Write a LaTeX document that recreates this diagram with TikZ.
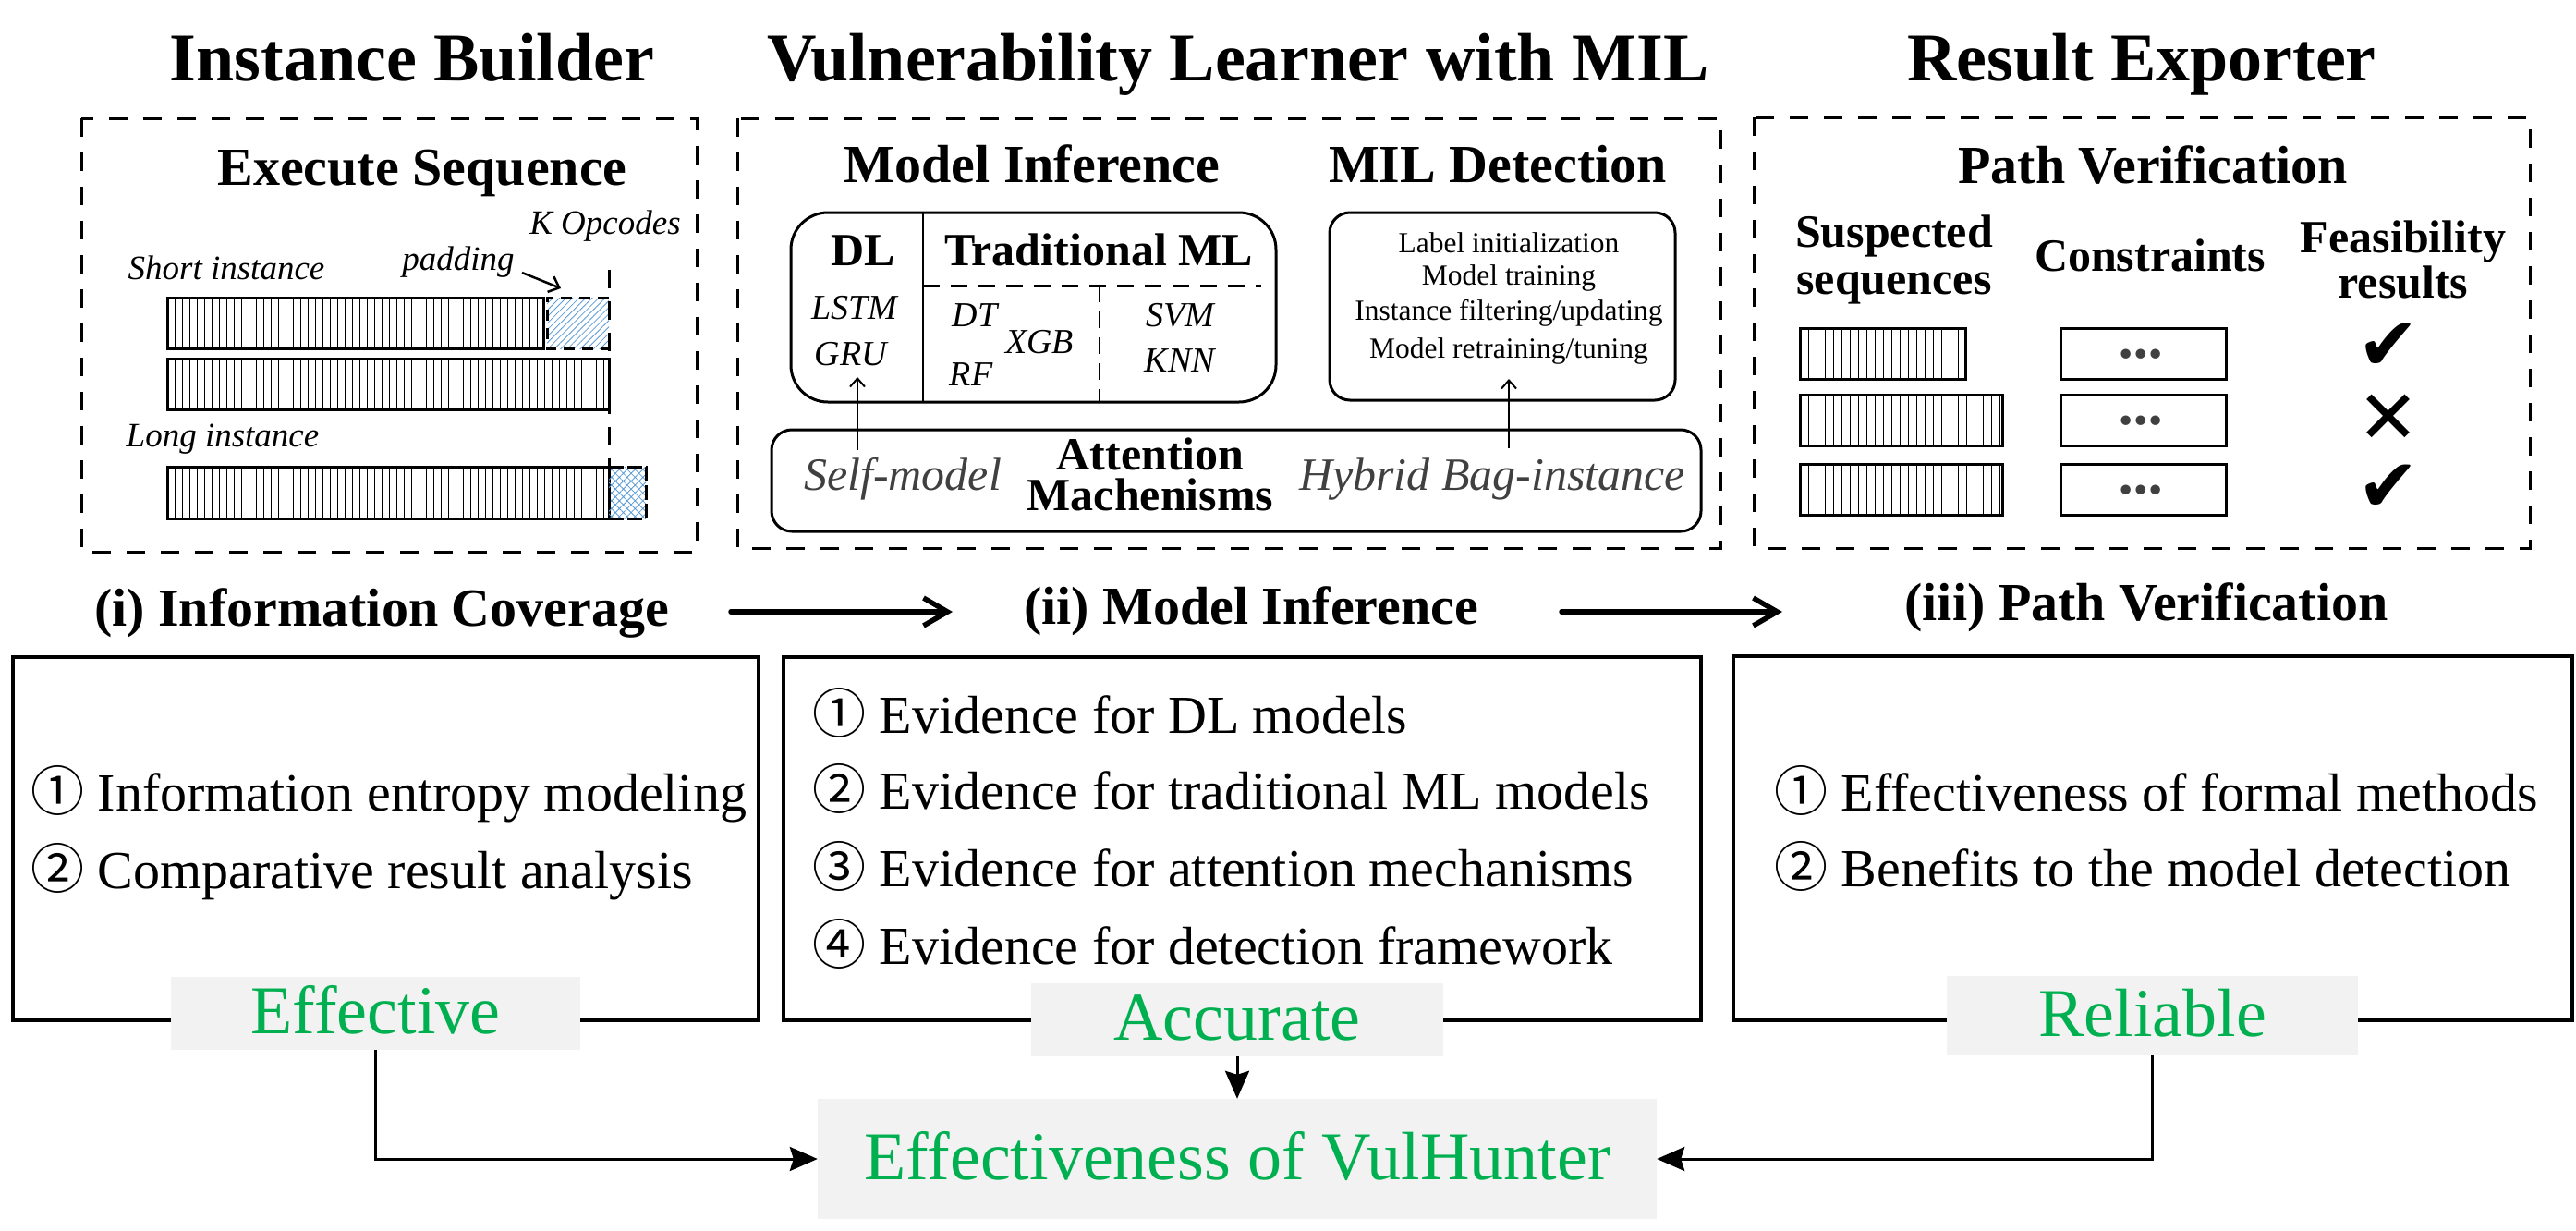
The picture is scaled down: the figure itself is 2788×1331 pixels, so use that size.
\documentclass[tikz,border=0pt]{standalone}
\usepackage{fontspec}
\setmainfont{Liberation Serif}
\newfontfamily\cjkfont{Noto Sans CJK SC}
\newfontfamily\dvsymfont{DejaVu Sans}
\usetikzlibrary{arrows.meta,patterns.meta}
\definecolor{effgreen}{HTML}{00B050}
\definecolor{boxgray}{HTML}{F2F2F2}
\definecolor{txtgray}{HTML}{404040}
\definecolor{hatchblue}{HTML}{5B9BD5}
\newcommand{\fsz}[1]{\fontsize{#1}{#1}\selectfont}
\newcommand{\cnum}[1]{{\cjkfont #1}}
\newcommand{\seqbar}[5]{%
  \pgfmathtruncatemacro{\seqn}{floor((#3-#1)/#5-0.3)}%
  \foreach \i in {1,...,\seqn}{\draw[line width=1pt] ({#1+\i*#5},#2) -- ({#1+\i*#5},#4);}%
  \draw[line width=3pt] (#1,#2) rectangle (#3,#4);%
}
\begin{document}
\begin{tikzpicture}[x=1pt,y=-1pt,
  toptitle/.style={font=\bfseries\fsz{74},anchor=base,inner sep=0pt},
  subtitle/.style={font=\bfseries\fsz{58},anchor=base,inner sep=0pt},
  headb/.style={font=\bfseries\fsz{50},anchor=base,inner sep=0pt},
  itl/.style={font=\itshape\fsz{37},anchor=base,inner sep=0pt},
  mlname/.style={font=\itshape\fsz{38},anchor=base,inner sep=0pt},
  milstep/.style={font=\fsz{31.5},anchor=base,inner sep=0pt},
  attn/.style={font=\itshape\fsz{50},text=txtgray,anchor=base,inner sep=0pt},
  item/.style={font=\fsz{58},anchor=base west,inner sep=0pt},
  dashbox/.style={line width=3pt,dash pattern=on 20pt off 17pt},
  roundbox/.style={line width=3pt},
  whitebox/.style={line width=4pt},
  graybox/.style={fill=boxgray,inner sep=0pt,text=effgreen,font=\fsz{74},text height=44pt,text depth=0pt},
  flow/.style={line width=5.5pt,line cap=round,-{Straight Barb[length=26pt,width=30pt]}},
  conn/.style={line width=3pt,-{Stealth[length=30pt,width=26pt,inset=4pt]}},
  thinarrow/.style={line width=2pt,-{Straight Barb[length=9pt,width=16pt]}},
  padarrow/.style={line width=2.5pt,-{Straight Barb[length=10pt,width=18pt]}},
  constr/.style={line width=3pt},
  dots/.style={font=\bfseries\itshape\fsz{64},text=txtgray,anchor=base,inner sep=0pt},
  okmark/.style={font=\dvsymfont\fsz{80},inner sep=0pt},
  nomark/.style={font=\dvsymfont\fsz{80},inner sep=0pt},
]
\useasboundingbox (0,0) rectangle (2788,1331);

% ---------- top titles
\node[toptitle] (t1) at (446,87) {Instance Builder};
\node[toptitle] (t2) at (1340,87) {Vulnerability Learner with MIL};
\node[toptitle] (t3) at (2318,87) {Result Exporter};

% ---------- dashed frames
\draw[dashbox] (88,128) rectangle (754,597);
\draw[dashbox] (798,128) rectangle (1862,593);
\draw[dashbox] (1898,127) rectangle (2738,593);

% ---------- box A : Execute Sequence
\node[subtitle] (es) at (457,200) {Execute Sequence};
\node[itl] (kop) at (655,253) {K Opcodes};
\node[itl] (pad) at (496,292) {padding};
\node[itl] (shortl) at (245,302) {Short instance};
\node[itl] (longl) at (241,483) {Long instance};
\seqbar{181}{322}{588}{377}{8}
\fill[pattern={Lines[angle=45,distance=5pt,line width=0.8pt]},pattern color=hatchblue] (592,322) rectangle (659,377);
\draw[line width=3pt,dash pattern=on 12pt off 8pt] (659,322) -- (592,322) -- (592,377) -- (659,377);
\seqbar{181}{388}{659}{443}{8}
\seqbar{181}{505}{659}{561}{8}
\fill[pattern={Hatch[angle=45,distance=6pt,line width=0.8pt]},pattern color=hatchblue] (659,505) rectangle (699,561);
\draw[line width=3pt,dash pattern=on 16pt off 4pt] (659,505) -- (699,505) -- (699,561) -- (659,561);
\coordinate (kl1) at (659,292);
\coordinate (kl2) at (659,562);
\draw[line width=3pt,dash pattern=on 20pt off 14pt] (kl1) -- (kl2);
\coordinate (padfrom) at (565,295);
\coordinate (padto) at (607,312);
\draw[padarrow] (padfrom) -- (padto);

% ---------- box B : Vulnerability learner
\node[subtitle] (mi) at (1117,197) {Model Inference};
\node[subtitle] (mild) at (1621,197) {MIL Detection};
\draw[roundbox,rounded corners=40pt] (856,230) rectangle (1381,435);
\draw[line width=2pt] (999,230) -- (999,435);
\draw[line width=3pt,dash pattern=on 18pt off 12pt] (999,309) -- (1365,309);
\draw[line width=2pt,dash pattern=on 18pt off 10pt] (1190,309) -- (1190,435);
\node[headb] (dl) at (934,287) {DL};
\node[headb] (tml) at (1189,287) {Traditional ML};
\node[mlname] (lstm) at (925,345) {LSTM};
\node[mlname] (gru) at (921,395) {GRU};
\node[mlname] (dt) at (1055,353) {DT};
\node[mlname] (xgb) at (1125,382) {XGB};
\node[mlname] (rf) at (1051,417) {RF};
\node[mlname] (svm) at (1277,353) {SVM};
\node[mlname] (knn) at (1277,402) {KNN};
\draw[roundbox,rounded corners=22pt] (1439,230) rectangle (1813,433);
\node[milstep] (m1) at (1633,273) {Label initialization};
\node[milstep] (m2) at (1633,308) {Model training};
\node[milstep] (m3) at (1633,346) {Instance filtering/updating};
\node[milstep] (m4) at (1633,387) {Model retraining/tuning};
\draw[roundbox,rounded corners=22pt] (835,465) rectangle (1841,575);
\node[headb] (att1) at (1245,508) {Attention};
\node[headb] (att2) at (1245,552) {Machenisms};
\node[attn] (selfm) at (977,530) {Self-model};
\node[attn] (hyb) at (1615,530) {Hybrid Bag-instance};
\coordinate (sa1) at (928,487);
\coordinate (sa2) at (928,408);
\coordinate (ha1) at (1633,485);
\coordinate (ha2) at (1633,410);
\draw[thinarrow] (sa1) -- (sa2);
\draw[thinarrow] (ha1) -- (ha2);

% ---------- box C : Path verification
\node[subtitle] (pv) at (2330,198) {Path Verification};
\node[headb] (sus1) at (2050,267) {Suspected};
\node[headb] (sus2) at (2050,318) {sequences};
\node[headb] (cons) at (2327,293) {Constraints};
\node[headb] (fea1) at (2601,273) {Feasibility};
\node[headb] (fea2) at (2601,322) {results};
\seqbar{1948}{355}{2127}{410}{9}
\seqbar{1948}{427}{2167}{482}{9}
\seqbar{1948}{502}{2167}{557}{9}
\draw[constr] (2230,355) rectangle (2409,410);
\draw[constr] (2230,427) rectangle (2409,482);
\draw[constr] (2230,502) rectangle (2409,557);
\node[dots] (d1) at (2319,387) {...};
\node[dots] (d2) at (2319,459) {...};
\node[dots] (d3) at (2319,534) {...};
\node[okmark] (ok1) at (2585,375) {✔};
\node[nomark] (no2) at (2585,453) {✕};
\node[okmark] (ok3) at (2585,528) {✔};

% ---------- stage titles and flow arrows
\node[subtitle] (s1) at (413,677) {(i) Information Coverage};
\node[subtitle] (s2) at (1354,675) {(ii) Model Inference};
\node[subtitle] (s3) at (2323,671) {(iii) Path Verification};
\coordinate (f1a) at (791,662);
\coordinate (f1b) at (1031,662);
\coordinate (f2a) at (1690,662);
\coordinate (f2b) at (1929,662);
\draw[flow] (f1a) -- (f1b);
\draw[flow] (f2a) -- (f2b);

% ---------- bottom boxes
\draw[whitebox] (14,711) rectangle (821,1104);
\draw[whitebox] (848,711) rectangle (1841,1104);
\draw[whitebox] (1876,710) rectangle (2784,1104);

\node[item] (i11) at (33,877) {\cnum{①} Information entropy modeling};
\node[item] (i12) at (33,961) {\cnum{②} Comparative result analysis};
\node[item] (i21) at (879,793) {\cnum{①} Evidence for DL models};
\node[item] (i22) at (879,875) {\cnum{②} Evidence for traditional ML models};
\node[item] (i23) at (879,959) {\cnum{③} Evidence for attention mechanisms};
\node[item] (i24) at (879,1043) {\cnum{④} Evidence for detection framework};
\node[item] (i31) at (1920,877) {\cnum{①} Effectiveness of formal methods};
\node[item] (i32) at (1920,959) {\cnum{②} Benefits to the model detection};

\node[graybox,minimum width=443pt,minimum height=79pt] (eff) at (406.5,1096.5) {Effective};
\node[graybox,minimum width=446pt,minimum height=79pt] (acc) at (1339,1103.5) {Accurate};
\node[graybox,minimum width=445pt,minimum height=86pt] (rel) at (2329.5,1099) {Reliable};
\node[graybox,minimum width=908pt,minimum height=130pt] (final) at (1339,1254) {Effectiveness of VulHunter};

\draw[conn] (eff.south) |- (final.west);
\draw[conn] (rel.south) |- (final.east);
\draw[conn] (acc.south) -- (final.north);
\end{tikzpicture}
\end{document}
